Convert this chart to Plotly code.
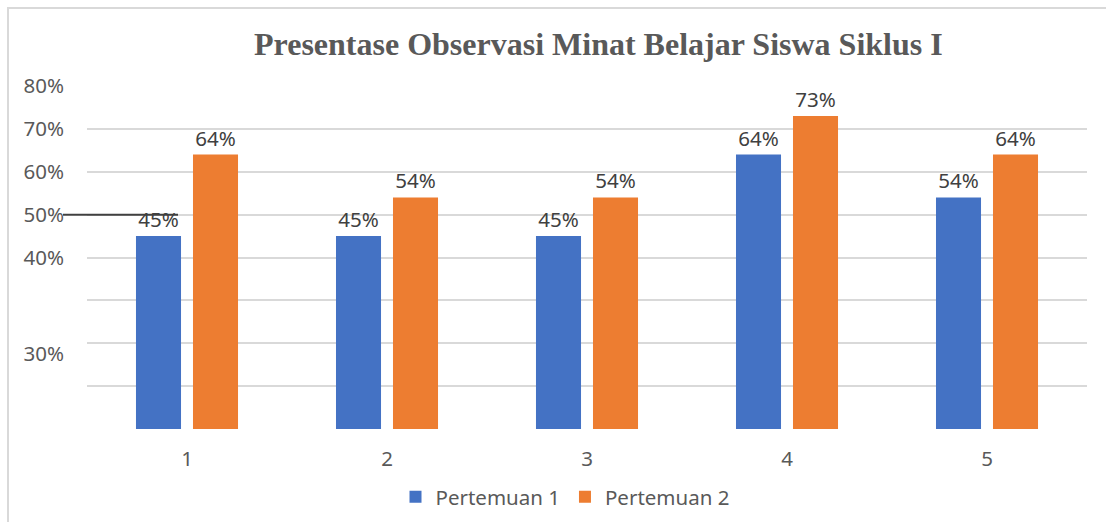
import plotly.graph_objects as go

categories = ["1", "2", "3", "4", "5"]
pertemuan_1 = [45, 45, 45, 64, 54]
pertemuan_2 = [64, 54, 54, 73, 64]
series_names = ["Pertemuan 1", "Pertemuan 2"]
y_tick_positions = [80, 70, 60, 50, 40, 17.5]
y_tick_labels = ["80%", "70%", "60%", "50%", "40%", "30%"]
title_text = "Presentase Observasi Minat Belajar Siswa Siklus I"

BLUE = "#4472C4"
ORANGE = "#ED7D31"
GRID = "#d9d9d9"
TXT = "#595959"
LBL = "#404040"
FONT = "Noto Sans"
FS = 20.5

fig = go.Figure()
for name, vals, col in [(series_names[0], pertemuan_1, BLUE), (series_names[1], pertemuan_2, ORANGE)]:
    fig.add_trace(go.Bar(
        x=categories, y=vals, name=name, marker=dict(color=col, line=dict(width=0)),
        texttemplate="%{y}%", textposition="outside", cliponaxis=False,
        textfont=dict(family=FONT, size=FS, color=LBL),
    ))

fig.update_layout(
    width=1106, height=522,
    margin=dict(l=87, r=19, t=86, b=93, autoexpand=False),
    paper_bgcolor="white", plot_bgcolor="white",
    barmode="group", bargap=0.43, bargroupgap=0.21,
    title=dict(text=title_text, x=0.541, xref="container", xanchor="center",
               y=1 - 44 / 522, yref="container", yanchor="middle",
               font=dict(family="Liberation Serif", size=32, color=TXT, weight="bold")),
    showlegend=True,
    legend=dict(orientation="h", x=0.478, xanchor="center", y=-0.198, yanchor="middle",
                font=dict(family=FONT, size=FS, color=TXT), traceorder="normal"),
    xaxis=dict(showgrid=False, showline=False, ticks="", zeroline=False, automargin=False,
               ticklabelstandoff=15,
               tickfont=dict(family=FONT, size=FS, color=TXT)),
    yaxis=dict(range=[0, 80], tickvals=y_tick_positions, ticktext=y_tick_labels,
               showgrid=False, zeroline=False, showline=False, ticks="", automargin=False,
               ticklabelstandoff=22,
               tickfont=dict(family=FONT, size=FS, color=TXT),
               minor=dict(dtick=10, tick0=0, showgrid=True, gridcolor=GRID, gridwidth=1.5, ticks="")),
)

# chart border (top and left visible)
fig.add_shape(type="rect", xref="paper", yref="paper",
              x0=(8 - 87) / 1000, x1=(1120 - 87) / 1000,
              y0=(429 - 540) / 343, y1=1 + (86 - 8) / 343,
              line=dict(color=GRID, width=2), fillcolor="rgba(0,0,0,0)", layer="below")
# stray strike line across the first label
fig.add_shape(type="line", xref="paper", yref="y",
              x0=(63 - 87) / 1000, x1=(178 - 87) / 1000, y0=50, y1=50,
              line=dict(color=LBL, width=2), layer="above")

fig.write_html("out.html", config={"displayModeBar": False},
               post_script="document.body.style.margin='0';document.body.style.overflow='hidden';")
